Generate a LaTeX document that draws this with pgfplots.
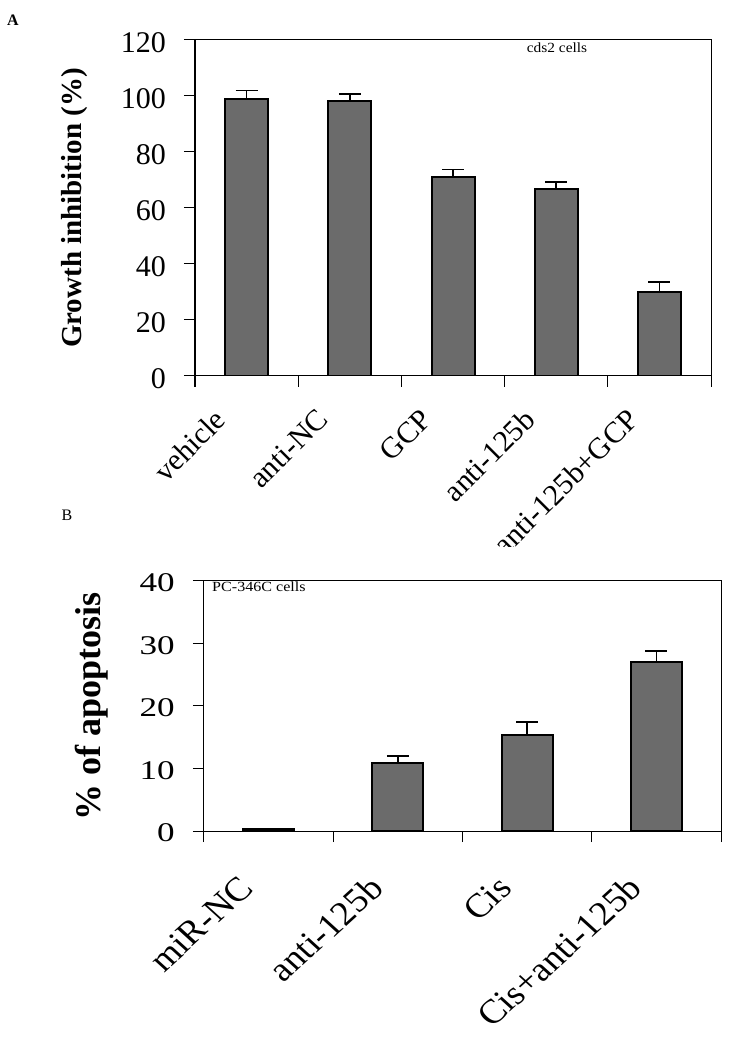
\documentclass[border=0pt]{standalone}
\usepackage{fontspec}
\setmainfont{Liberation Serif}
\usepackage{pgfplots}
\pgfplotsset{compat=1.18}
\definecolor{barfill}{HTML}{6B6B6B}

\pgfplotstableread{
x y e
0.5 99.0 3.0
1.5 98.3 2.4
2.5 71.2 2.6
3.5 66.7 2.5
4.5 29.9 3.6
}\dataA

\pgfplotstableread{
x y e
0.5 0.4 0.0
1.5 10.8 1.2
2.5 15.4 2.0
3.5 27.0 1.8
}\dataB

\pgfplotsset{
  common/.style={
    scale only axis,
    anchor=south west,
    ymin=0,
    tick align=outside,
    major tick length=11pt,
    tick pos=left,
    tick style={black, line width=1pt},
    axis line style={line width=1pt},
    /pgf/number format/assume math mode=true,
    xticklabels={},
    extra x tick style={major tick length=0pt},
  },
  barstyle/.style={
    ybar, bar shift=0pt, fill=barfill, draw=black, line width=2pt,
    error bars/.cd, y dir=plus, y explicit,
    error bar style={line width=1.5pt, black},
    error mark=|,
    error mark options={mark size=11pt, line width=1.5pt, black},
  },
}

\begin{document}
\begin{tikzpicture}
\path[use as bounding box] (0pt,0pt) rectangle (732pt,1050pt);

\begin{axis}[common,
  at={(195pt,674pt)},
  width=516pt, height=336pt,
  xmin=0, xmax=5, ymax=120,
  ytick={0,20,...,120},
  xtick={0,1,...,5},
  extra x ticks={0.5,1.5,2.5,3.5,4.5},
  extra x tick labels={vehicle,anti-NC,GCP,anti-125b,anti-125b+GCP},
  yticklabel style={font=\fontsize{30}{36}\selectfont, inner sep=0pt, xshift=-18pt, yshift=-3pt},
  xticklabel style={font=\fontsize{30}{36}\selectfont, inner sep=0pt, xshift=-34pt, yshift=-31pt, rotate=45, anchor=north east},
  every axis y label/.style={at={(axis description cs:0,0.5)}, xshift=-120pt, rotate=90, anchor=center, font=\bfseries\fontsize{29}{34}\selectfont},
  ylabel={Growth inhibition (\%)},
]
\addplot[bar width=43pt, barstyle] table[x=x, y=y, y error=e] {\dataA};
\end{axis}

\fill[white] (440pt,478pt) rectangle (732pt,503pt);

\begin{axis}[common,
  at={(204pt,219pt)},
  width=517pt, height=250pt,
  xmin=0, xmax=4, ymax=40,
  ytick={0,10,...,40},
  xtick={0,1,...,4},
  extra x ticks={0.5,1.5,2.5,3.5},
  extra x tick labels={miR-NC,anti-125b,Cis,Cis+anti-125b},
  yticklabel style={font=\fontsize{27}{32}\selectfont, inner sep=0pt, xshift=-18pt, yshift=-2pt, xscale=1.3},
  xticklabel style={font=\fontsize{34}{40}\selectfont, inner sep=0pt, xshift=-31pt, yshift=-43pt, xscale=1.1, rotate=45, anchor=north east},
  every axis y label/.style={at={(axis description cs:0,0.5)}, xshift=-112pt, rotate=90, anchor=center, font=\bfseries\fontsize{36}{40}\selectfont},
  ylabel={\% of apoptosis},
]
\addplot[bar width=51pt, barstyle] table[x=x, y=y, y error=e] {\dataB};
\end{axis}

\node[font=\fontsize{14}{16}\selectfont, xscale=1.1] at (557pt,1002pt) {cds2 cells};
\node[font=\fontsize{14}{16}\selectfont, xscale=1.15, anchor=west, inner sep=0pt] at (212pt,463pt) {PC-346C cells};
\node[font=\bfseries\fontsize{16}{18}\selectfont] at (13pt,1030pt) {A};
\node[font=\fontsize{16}{18}\selectfont] at (67pt,535pt) {B};
\end{tikzpicture}
\end{document}
